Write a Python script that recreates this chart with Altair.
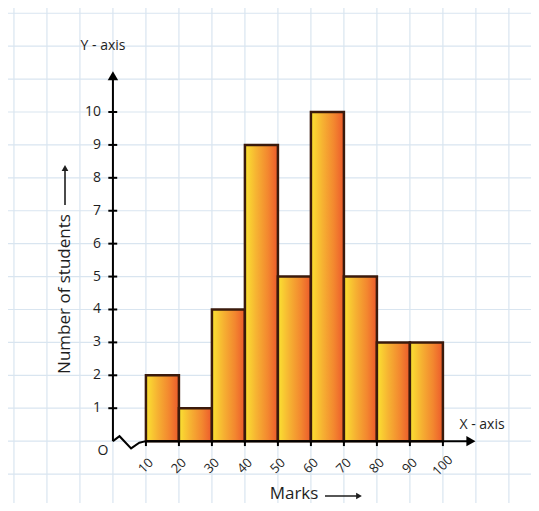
import altair as alt
import pandas as pd

# ---- data ----
bin_lo = [10, 20, 30, 40, 50, 60, 70, 80, 90]
bin_hi = [20, 30, 40, 50, 60, 70, 80, 90, 100]
counts = [2, 1, 4, 9, 5, 10, 5, 3, 3]
y_ticks = [1, 2, 3, 4, 5, 6, 7, 8, 9, 10]
x_labels = [10, 20, 30, 40, 50, 60, 70, 80, 90, 100]
grid_x = list(range(-30, 130, 10))
grid_y = list(range(-1, 14))
zig_x = [0, 2, 5.5, 8, 10]
zig_y = [0, 0.15, -0.22, -0.05, 0]

W, H = 523, 495
xs = alt.Scale(domain=[-31.8, 126.7], nice=False, zero=False)
ys = alt.Scale(domain=[-1.88, 13.16], nice=False, zero=False)

font = "Open Sans"
ink = "#1e1e1e"

def X(f):
    return alt.X(f, type="quantitative", scale=xs, axis=None)

def Y(f):
    return alt.Y(f, type="quantitative", scale=ys, axis=None)

bars_df = pd.DataFrame({"lo": bin_lo, "hi": bin_hi, "n": counts, "z": [0] * len(counts)})
gx_df = pd.DataFrame({"x": grid_x})
gy_df = pd.DataFrame({"y": grid_y})
yt_df = pd.DataFrame({"y": y_ticks, "a": [-1.4] * 10, "b": [1.3] * 10, "lx": [-3.6] * 10})
xl_df = pd.DataFrame({"x": x_labels, "t": [str(v) for v in x_labels],
                      "a": [0] * 10, "b": [-0.15] * 10, "ly": [-0.75] * 10})
zig_df = pd.DataFrame({"x": zig_x, "y": zig_y, "o": list(range(len(zig_x)))})
yax_df = pd.DataFrame({"x": [0], "y0": [0], "y1": [11.05], "ya": [11.1]})
xax_df = pd.DataFrame({"y": [0], "x0": [10], "x1": [108], "xa": [108.5]})

grid_v = alt.Chart(gx_df).mark_rule(color="#d9e5f0", strokeWidth=1.2).encode(x=X("x"))
grid_h = alt.Chart(gy_df).mark_rule(color="#d9e5f0", strokeWidth=1.2).encode(y=Y("y"))

grad = alt.Gradient(
    gradient="linear",
    stops=[alt.GradientStop(color="#fbe232", offset=0),
           alt.GradientStop(color="#f6b232", offset=0.35),
           alt.GradientStop(color="#f3872f", offset=0.7),
           alt.GradientStop(color="#ec5a2b", offset=1)],
    x1=0, x2=1, y1=0, y2=0)

bars = alt.Chart(bars_df).mark_rect(fill=grad, stroke="#3a1a0c", strokeWidth=2.5).encode(
    x=X("lo"), x2="hi", y=Y("n"), y2="z")

yaxis = alt.Chart(yax_df).mark_rule(color="black", strokeWidth=2).encode(
    x=X("x"), y=Y("y0"), y2="y1")
yarrow = alt.Chart(yax_df).mark_point(
    shape="triangle-up", filled=True, color="black", size=110, opacity=1).encode(
    x=X("x"), y=Y("ya"))

xaxis = alt.Chart(xax_df).mark_rule(color="black", strokeWidth=2).encode(
    y=Y("y"), x=X("x0"), x2="x1")
xarrow = alt.Chart(xax_df).mark_point(
    shape="triangle-right", filled=True, color="black", size=110, opacity=1).encode(
    x=X("xa"), y=Y("y"))

zig = alt.Chart(zig_df).mark_line(color="black", strokeWidth=2).encode(
    x=X("x"), y=Y("y"), order="o:Q")

yticks = alt.Chart(yt_df).mark_rule(color="black", strokeWidth=2).encode(
    y=Y("y"), x=X("a"), x2="b")
xticks = alt.Chart(xl_df).mark_rule(color="black", strokeWidth=2).encode(
    x=X("x"), y=Y("a"), y2="b")

ylabels = alt.Chart(yt_df).mark_text(align="right", baseline="middle", font=font,
                                     fontSize=14, color=ink).encode(
    y=Y("y"), x=X("lx"), text="y:Q")
xlabels = alt.Chart(xl_df).mark_text(align="center", baseline="middle", font=font,
                                     fontSize=13, color=ink, angle=315).encode(
    x=X("x"), y=Y("ly"), text="t:N")

def note(txt, px, py, size=13, angle=0):
    return alt.Chart(pd.DataFrame({"t": [txt]})).mark_text(
        align="center", baseline="middle", font=font, fontSize=size, color=ink,
        angle=angle).encode(x=alt.value(px), y=alt.value(py), text="t:N")

origin = note("O", 95, 443, 14)
ytitle = note("Y - axis", 95, 38, 14)
xtitle = note("X - axis", 474, 417, 14)
marks = note("Marks", 286, 486, 17)
nstud = note("Number of students", 57, 286, 17, 270)

# title arrows (pixel placed annotations)
marks_shaft = alt.Chart(pd.DataFrame({"k": [0]})).mark_rule(color=ink, strokeWidth=1.6).encode(
    x=alt.value(317), x2=alt.value(350), y=alt.value(488))
marks_head = alt.Chart(pd.DataFrame({"k": [0]})).mark_point(
    shape="triangle-right", filled=True, color=ink, size=45, opacity=1).encode(
    x=alt.value(351), y=alt.value(488))
ns_shaft = alt.Chart(pd.DataFrame({"k": [0]})).mark_rule(color=ink, strokeWidth=1.6).encode(
    x=alt.value(57), y=alt.value(197), y2=alt.value(162))
ns_head = alt.Chart(pd.DataFrame({"k": [0]})).mark_point(
    shape="triangle-up", filled=True, color=ink, size=45, opacity=1).encode(
    x=alt.value(57), y=alt.value(160))

chart = alt.layer(
    grid_v, grid_h, bars, zig, yaxis, yarrow, xaxis, xarrow, yticks, xticks,
    ylabels, xlabels, origin, ytitle, xtitle, marks, nstud,
    marks_shaft, marks_head, ns_shaft, ns_head
).properties(width=W, height=H, padding=0, autosize="none", background="white"
).configure_view(stroke=None)

chart.save("out.html", embed_options={"renderer": "svg", "actions": False})
